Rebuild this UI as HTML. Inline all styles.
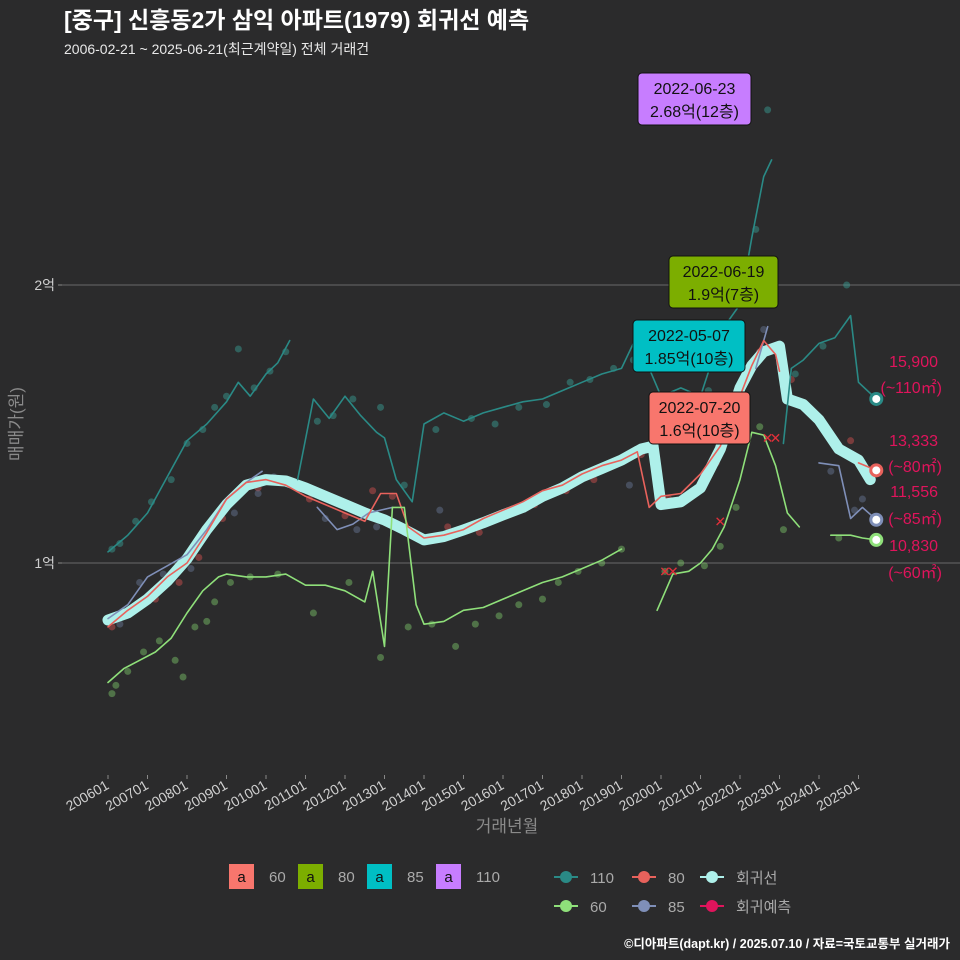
<!DOCTYPE html>
<html><head><meta charset="utf-8">
<style>
html,body{margin:0;padding:0;background:#2b2b2c;}
svg{display:block;font-family:"Liberation Sans","Noto Sans CJK KR",sans-serif;}
</style></head>
<body>
<svg id="chart" width="960" height="960" viewBox="0 0 960 960" xmlns="http://www.w3.org/2000/svg">
<rect width="960" height="960" fill="#2b2b2c"/>
<text x="64" y="28" font-size="23" font-weight="bold" fill="#ffffff">[중구] 신흥동2가 삼익 아파트(1979) 회귀선 예측</text>
<text x="64" y="54" font-size="14" fill="#e8e8e8">2006-02-21 ~ 2025-06-21(최근계약일) 전체 거래건</text>
<text transform="translate(22,424) rotate(-90)" text-anchor="middle" font-size="17" fill="#8a8a8a">매매가(원)</text>
<text x="507" y="832" text-anchor="middle" font-size="17" fill="#8a8a8a">거래년월</text>
<g id="grid"></g>
<g id="points"></g>
<g id="lines"></g>
<g id="ann"></g>
<g id="legend"></g>
<text x="950" y="948" text-anchor="end" font-size="12.5" font-weight="bold" fill="#ffffff">©디아파트(dapt.kr) / 2025.07.10 / 자료=국토교통부 실거래가</text>
</svg>
<script>
const yTicks=[10000,20000];
const yTickLabels=["1억","2억"];
const xTicks=[2006,2007,2008,2009,2010,2011,2012,2013,2014,2015,2016,2017,2018,2019,2020,2021,2022,2023,2024,2025];
const xTickLabels=["200601","200701","200801","200901","201001","201101","201201","201301","201401","201501","201601","201701","201801","201901","202001","202101","202201","202301","202401","202501"];
// series: [time, value(만원)]
const regT=[2006,2006.5,2007,2007.5,2008,2008.5,2009,2009.5,2010,2010.5,2011,2011.5,2012,2012.5,2013,2013.5,2014,2014.5,2015,2015.5,2016,2016.5,2017,2017.5,2018,2018.5,2019,2019.5,2019.8,2020,2020.5,2021,2021.5,2022,2022.3,2022.6,2023,2023.2,2023.6,2024,2024.5,2025,2025.3];
const regV=[7950,8200,8700,9350,10150,11200,12100,12800,13000,12950,12700,12400,12100,11800,11550,11200,10830,10950,11190,11450,11730,12000,12400,12700,13100,13400,13700,14100,14200,12100,12200,12700,14100,16300,17100,17600,17800,15900,15700,15150,14100,13700,13000];
const s110T=[2006,2006.5,2007,2007.5,2008,2008.5,2009,2009.3,2009.6,2010,2010.3,2010.6,null,2010.8,2011.2,2011.6,2012,2012.4,2012.8,2013,2013.3,2013.7,2014,2014.5,2015,2015.5,2016,2016.5,2017,2017.5,2018,2018.5,2019,2019.4,2019.7,2020,2020.5,2021,2021.3,2021.6,2022,2022.3,2022.6,2022.8,null,2023.1,2023.3,2023.6,2024,2024.4,2024.8,2025,2025.45];
const s110V=[10400,11000,11800,13100,14400,15000,15800,16500,16000,16800,17200,18000,null,13000,15900,15200,16000,15300,14700,14500,13000,12200,15000,15400,15100,15400,15600,15800,15900,16200,16500,16800,17000,18200,17000,16000,16300,16000,17300,18500,19300,21700,23900,24500,null,14300,17000,17300,17900,18100,18900,16500,15900];
const s85T=[2006,2006.5,2007,2007.5,2008,2008.5,2009,2009.5,2009.9,null,2011.3,2011.8,2012.2,2012.6,2013.2,null,2022.4,2022.7,null,2024,2024.5,2024.8,2025.1,2025.45];
const s85V=[8000,8500,9500,9900,10300,11200,12300,12900,13300,null,12000,11200,11400,11800,12000,null,17000,18500,null,13600,13500,11600,12000,11556];
const s80T=[2006,2006.5,2007,2007.5,2008,2008.5,2009,2009.5,2010,2010.5,2011,2011.5,2012,2012.5,2012.9,2013.3,2013.6,2014,2014.5,2015,2015.5,2016,2016.5,2017,2017.5,2018,2018.5,2019,2019.4,2019.7,2020,2020.5,2021,2021.5,2022,2022.3,2022.6,2022.9,2023,null,2025,2025.45];
const s80V=[7700,8300,8800,9500,10000,11100,12300,12900,13000,12800,12400,12100,11800,11500,12500,12500,11300,10900,11000,11200,11600,11900,12200,12600,12800,13200,13500,13700,14000,12000,12400,12500,13200,14200,16000,17100,18000,17500,16900,null,13600,13333];
const s60T=[2006,2006.4,2006.8,2007.2,2007.6,2008,2008.4,2008.8,2009,2009.5,2010,2010.5,2011,2011.5,2012,2012.5,2012.7,2013,2013.2,2013.5,2013.8,2014,2014.5,2015,2015.5,2016,2016.5,2017,2017.5,2018,2018.5,2019,null,2019.9,2020.3,2020.7,2021,2021.3,2021.6,2022,2022.3,2022.6,2022.9,2023.2,2023.5,null,2024.3,2024.8,2025.1,2025.45];
const s60V=[5700,6200,6500,6800,7300,8200,9000,9500,9600,9500,9500,9600,9200,9200,9000,8600,9700,7000,12000,12000,8500,7800,7900,8300,8400,8700,9000,9300,9500,9800,10100,10500,null,8300,9600,9700,10000,10500,11300,13000,14700,14600,13500,11800,11300,null,11000,11000,10900,10830];
const ptsT110=[2006.1,2006.3,2006.7,2007.1,2007.6,2008,2008.4,2008.7,2009,2009.3,2009.7,2010.1,2010.5,2011.3,2011.7,2012.2,2012.9,2013.5,2014.3,2015.2,2015.8,2016.4,2017.1,2017.7,2018.2,2018.8,2019.3,2019.7,2020.6,2021.2,2021.8,2022.1,2022.4,2022.7,2023.4,2024.1,2024.7];
const ptsV110=[10500,10700,11500,12200,13000,14300,14800,15600,16000,17700,16300,16900,17600,15100,15300,15900,15600,12800,14800,15200,15000,15600,15700,16500,16600,17000,17300,18000,15700,16200,17800,19600,22000,26300,16800,17800,20000];
const ptsT60=[2006.1,2006.2,2006.5,2006.9,2007.3,2007.7,2007.9,2008.2,2008.5,2008.7,2009.1,2009.6,2010.3,2011.2,2012.1,2012.9,2013.6,2014.2,2014.8,2015.3,2015.9,2016.4,2017,2017.4,2017.9,2018.5,2019,2020.1,2020.5,2021.1,2021.5,2021.9,2022.5,2023.1,2024.5];
const ptsV60=[5300,5600,6100,6800,7200,6500,5900,7700,7900,8600,9300,9500,9600,8200,9300,6600,7700,7800,7000,7800,8100,8500,8700,9300,9700,10000,10500,9700,10000,9900,10600,12000,14900,11200,10900];
const ptsT80=[2006.1,2006.6,2007.2,2007.8,2008.3,2008.9,2009.3,2009.8,2010.4,2011.1,2012,2012.7,2013.2,2014.1,2014.6,2015.4,2016.2,2016.8,2017.6,2018.3,2018.9,2019.5,2020.2,2020.8,2021.4,2022.1,2022.5,2023.3,2024.8,2025.2];
const ptsV80=[7700,8300,8700,9300,10200,11600,12500,12700,12900,12300,11700,12600,12400,10800,11300,11100,11800,12100,12600,13000,13700,13900,12300,12600,13600,15900,17600,16600,14400,13200];
const ptsT85=[2006.3,2006.8,2007.4,2008.1,2009.2,2009.8,2010.2,2011.5,2012.3,2012.8,2014.4,2016.6,2019.2,2022.6,2024.3,2024.9,2025.1];
const ptsV85=[7800,9300,9600,9800,11800,12500,13100,11600,11200,11300,11900,12100,12800,18400,13300,11900,12300];
const predT=[2020.1,2020.3,2021.5,2022.7,2022.9];
const predV=[9700,9700,11500,14500,14500];

const X0=108,XS=39.5;
function xs(t){return X0+(t-2006)*XS;}
function ys(v){return 563-(v-10000)*0.0278;}
const NS="http://www.w3.org/2000/svg";
function mk(tag,attrs,parent){const e=document.createElementNS(NS,tag);for(const k in attrs)e.setAttribute(k,attrs[k]);document.getElementById(parent).appendChild(e);return e;}

// grid and axes
yTicks.forEach((v,i)=>{
  const g=mk('line',{x1:62,x2:960,y1:ys(v),y2:ys(v),stroke:'#6a6a6a','stroke-width':1},'grid');
  
  
  const tk=mk('line',{x1:58,x2:62,y1:ys(v),y2:ys(v),stroke:'#888'},'grid');
  
  
  const t=mk('text',{x:55,y:ys(v)+5,'text-anchor':'end','font-size':14,fill:'#cfcfcf'},'grid');
  t.textContent=yTickLabels[i];
  
  
});
xTicks.forEach((t,i)=>{
  const x=xs(t);
  const tk=mk('line',{x1:x,x2:x,y1:775,y2:779,stroke:'#888'},'grid');
  
  
  const lb=mk('text',{x:x+2,y:788,'text-anchor':'end','font-size':14,fill:'#cfcfcf',transform:`rotate(-30 ${x+2} 788)`},'grid');
  lb.textContent=xTickLabels[i];
  
  
});

function pts(T,V,color,name){
  T.forEach((t,i)=>{
    const c=mk('circle',{cx:xs(t),cy:ys(V[i]),r:3.5,fill:color,'fill-opacity':0.45},'points');
    
    
  });
}
pts(ptsT110,ptsV110,'#3aa59a','point-110');
pts(ptsT60,ptsV60,'#7ec96a','point-60');
pts(ptsT80,ptsV80,'#d9534f','point-80');
pts(ptsT85,ptsV85,'#6b7a99','point-85');

function path(T,V,color,w,name){
  let d='',pen=false;
  T.forEach((t,i)=>{
    if(t===null){pen=false;return;}
    d+=(pen?'L':'M')+xs(t).toFixed(1)+','+ys(V[i]).toFixed(1);pen=true;
  });
  const p=mk('path',{d:d,fill:'none',stroke:color,'stroke-width':w,'stroke-linejoin':'round','stroke-linecap':'round'},'lines');
  
  
}
path(regT,regV,'#aef0ea',11,'regression-line');
path(s110T,s110V,'#2a8a86',1.6,'line-110');
path(s85T,s85V,'#7f8fb8',1.6,'line-85');
path(s80T,s80V,'#e8625c',1.6,'line-80');
path(s60T,s60V,'#8fe07a',1.6,'line-60');

predT.forEach((t,i)=>{
  const g=mk('text',{x:xs(t),y:ys(predV[i])+5,'text-anchor':'middle','font-size':14,fill:'#e0303a'},'lines');
  g.textContent='✕';
  
  
});

// end markers
const endT=2025.45;
const endV=[15900,13333,11556,10830];
const endC=['#2a8a86','#e8625c','#7f8fb8','#8fe07a'];
const endLab=['15,900','13,333','11,556','10,830'];
const endSub=['(~110㎡)','(~80㎡)','(~85㎡)','(~60㎡)'];
const labY=[[367,393],[446,472],[497,524],[551,578]];
endV.forEach((v,i)=>{
  const c=mk('circle',{cx:xs(endT),cy:ys(v),r:5.5,fill:'#fff',stroke:endC[i],'stroke-width':3},'ann');
  
  
  const a=mk('text',{x:938,y:labY[i][0],'text-anchor':'end','font-size':16,fill:'#e0145c'},'ann');
  a.textContent=endLab[i];
  
  
  const b=mk('text',{x:942,y:labY[i][1],'text-anchor':'end','font-size':16,fill:'#e0145c'},'ann');
  b.textContent=endSub[i];
  
  
});

// annotation boxes
const boxes=[[638,73,113,52,'#c77dff','2022-06-23','2.68억(12층)'],[669,256,109,52,'#7cae00','2022-06-19','1.9억(7층)'],[633,320,112,52,'#00bfc4','2022-05-07','1.85억(10층)'],[649,392,101,52,'#f8766d','2022-07-20','1.6억(10층)']];
boxes.forEach(b=>{
  const r=mk('rect',{x:b[0],y:b[1],width:b[2],height:b[3],rx:4,fill:b[4],stroke:'#111','stroke-width':1},'ann');
  
  
  const t1=mk('text',{x:b[0]+b[2]/2,y:b[1]+21,'text-anchor':'middle','font-size':16,fill:'#111'},'ann');
  t1.textContent=b[5];
  
  
  const t2=mk('text',{x:b[0]+b[2]/2,y:b[1]+44,'text-anchor':'middle','font-size':16,fill:'#111'},'ann');
  t2.textContent=b[6];
  
  
});

// legend
const lg1=[[229,'#f8766d','60'],[298,'#7cae00','80'],[367,'#00bfc4','85'],[436,'#c77dff','110']];
lg1.forEach(l=>{
  const r=mk('rect',{x:l[0],y:864,width:25,height:25,fill:l[1]},'legend');
  
  
  const a=mk('text',{x:l[0]+12.5,y:882,'text-anchor':'middle','font-size':15,fill:'#111'},'legend');
  a.textContent='a';
  
  
  const t=mk('text',{x:l[0]+40,y:882,'font-size':15,fill:'#aaaaaa'},'legend');
  t.textContent=l[2];
  
  
});
const lg2=[[566,877,'#2a8a86','110'],[644,877,'#e8625c','80'],[712,877,'#aef0ea','회귀선'],[566,906,'#8fe07a','60'],[644,906,'#7f8fb8','85'],[712,906,'#e0145c','회귀예측']];
lg2.forEach(l=>{
  const ln=mk('line',{x1:l[0]-12,x2:l[0]+12,y1:l[1],y2:l[1],stroke:l[2],'stroke-width':2},'legend');
  
  
  const c=mk('circle',{cx:l[0],cy:l[1],r:6,fill:l[2]},'legend');
  
  
  const t=mk('text',{x:l[0]+24,y:l[1]+6,'font-size':15,fill:'#aaaaaa'},'legend');
  t.textContent=l[3];
  
  
});
</script>
</body></html>
